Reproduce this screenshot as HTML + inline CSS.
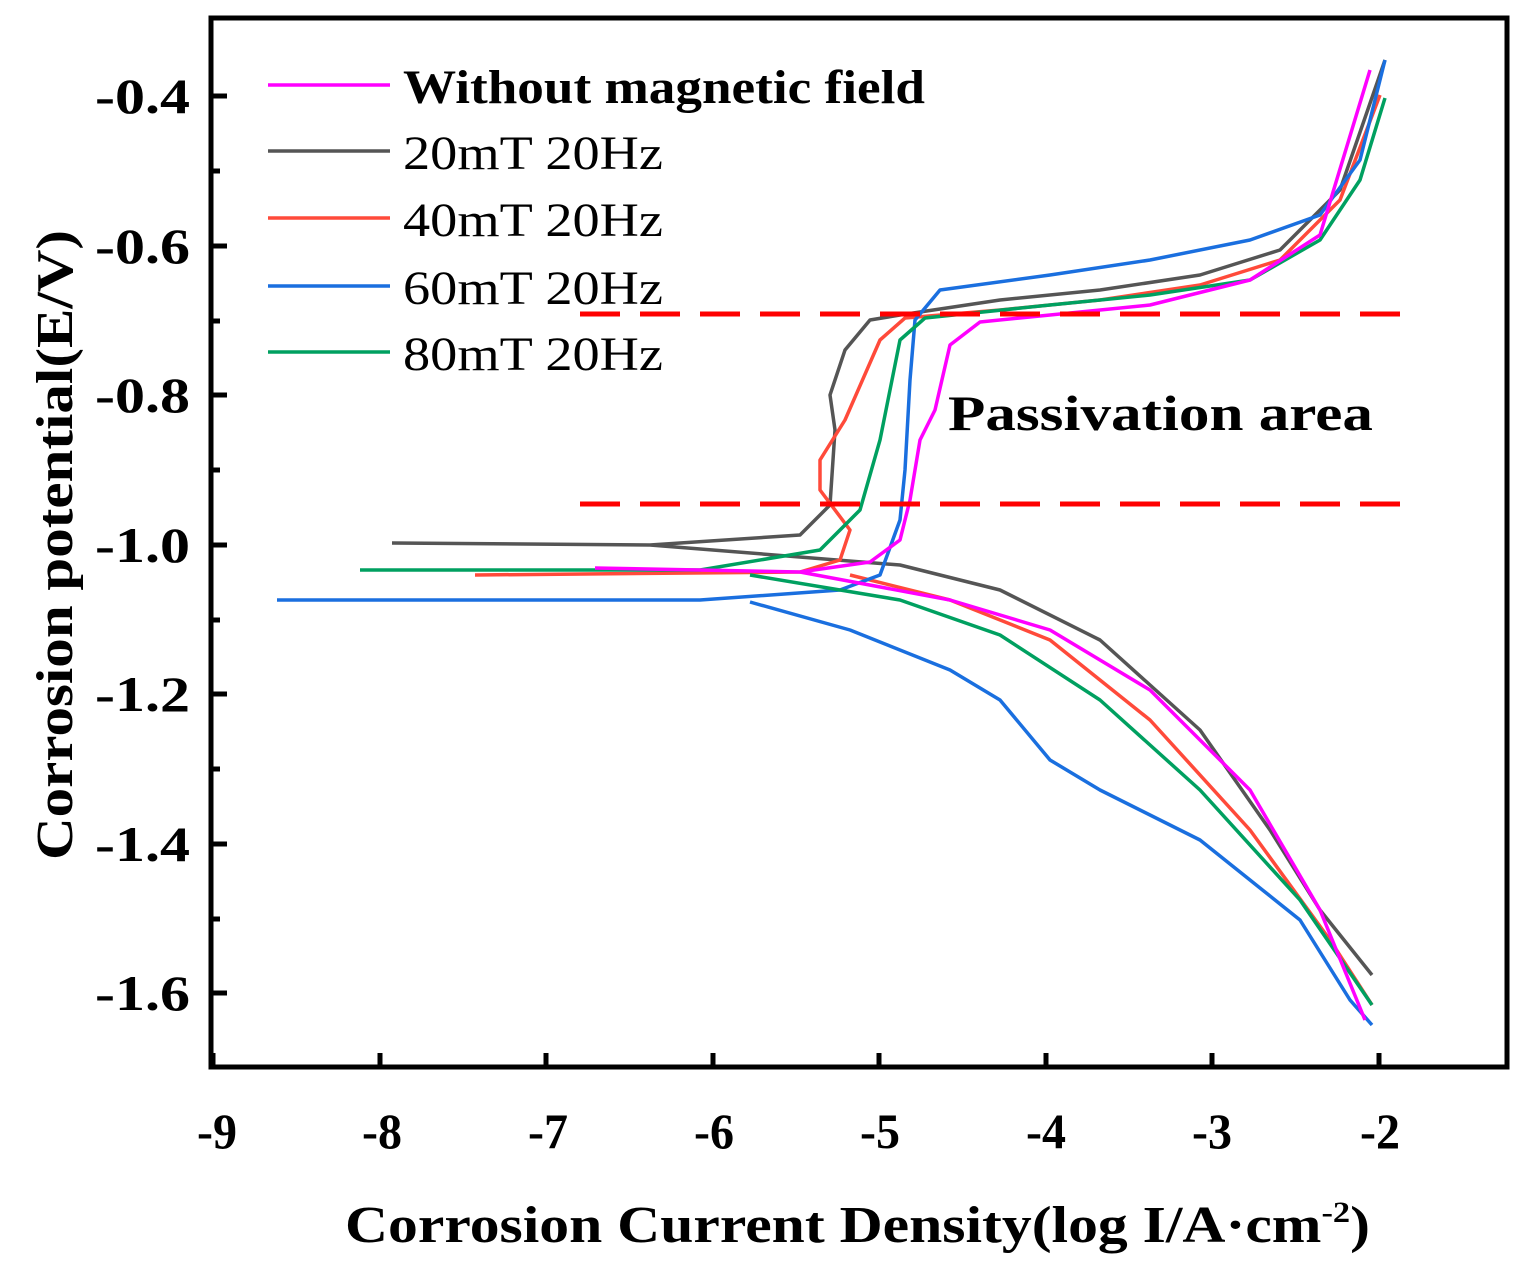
<!DOCTYPE html>
<html><head><style>body{margin:0;background:#fff}</style></head><body>
<svg width="1531" height="1273" viewBox="0 0 1531 1273" xmlns="http://www.w3.org/2000/svg" font-family="Liberation Serif, serif">
<rect width="1531" height="1273" fill="#fff"/>
<g fill="none" stroke-width="3.5" stroke-linejoin="round">
<path stroke="#555" d="M392,543 L650,545 L800,535 L830,505 L835,430 L830,395 L845,350 L870,320 L900,315 L1000,300 L1100,290 L1200,275 L1280,250 L1340,190 L1385,60 M650,545 L900,565 L1000,590 L1100,640 L1200,730 L1270,830 L1320,910 L1360,960 L1372,975"/>
<path stroke="#ff4a3a" d="M475,575 L800,572 L840,560 L850,530 L820,490 L820,460 L845,420 L880,340 L905,318 L1000,310 L1100,300 L1200,285 L1280,260 L1340,200 L1380,95 M850,575 L950,600 L1050,640 L1150,720 L1250,830 L1330,940 L1372,1005"/>
<path stroke="#1a6fdf" d="M277,600 L700,600 L840,590 L880,575 L900,520 L905,470 L910,380 L915,320 L940,290 L1050,275 L1150,260 L1250,240 L1320,215 L1360,160 L1385,60 M750,602 L850,630 L950,670 L1000,700 L1050,760 L1100,790 L1200,840 L1300,920 L1350,1000 L1372,1025"/>
<path stroke="#00a060" d="M360,570 L700,570 L820,550 L860,510 L880,440 L900,340 L925,318 L1050,305 L1150,295 L1250,280 L1320,240 L1360,180 L1385,98 M750,575 L900,600 L1000,635 L1100,700 L1200,790 L1300,900 L1372,1005"/>
<path stroke="#ff00ff" d="M595,568 L800,572 L870,562 L900,540 L910,500 L920,440 L935,410 L950,345 L980,322 L1050,315 L1150,305 L1250,280 L1320,235 L1370,70 M800,572 L950,600 L1050,630 L1150,690 L1250,790 L1320,910 L1365,1020"/>
</g>
<g stroke="#f00" stroke-width="5" stroke-dasharray="40,20">
<line x1="580" y1="314" x2="1420" y2="314"/><line x1="580" y1="504" x2="1420" y2="504"/>
</g>
<rect x="211" y="18" width="1296" height="1049" fill="none" stroke="#000" stroke-width="5"/>
<g stroke="#000" stroke-width="5">
<path d="M213,1067v-14M380,1067v-14M546,1067v-14M713,1067v-14M879,1067v-14M1046,1067v-14M1212,1067v-14M1379,1067v-14"/>
<path d="M211,96h16M211,246h16M211,395h16M211,545h16M211,694h16M211,844h16M211,993h16"/>
<path d="M211,171h9M211,321h9M211,470h9M211,620h9M211,769h9M211,919h9"/>
</g>
<g font-size="50" font-weight="bold">
<text x="197" y="1148" textLength="40" lengthAdjust="spacingAndGlyphs">-9</text>
<text x="362" y="1148" textLength="40" lengthAdjust="spacingAndGlyphs">-8</text>
<text x="528" y="1148" textLength="40" lengthAdjust="spacingAndGlyphs">-7</text>
<text x="694" y="1148" textLength="40" lengthAdjust="spacingAndGlyphs">-6</text>
<text x="860" y="1148" textLength="40" lengthAdjust="spacingAndGlyphs">-5</text>
<text x="1026" y="1148" textLength="40" lengthAdjust="spacingAndGlyphs">-4</text>
<text x="1192" y="1148" textLength="40" lengthAdjust="spacingAndGlyphs">-3</text>
<text x="1360" y="1148" textLength="40" lengthAdjust="spacingAndGlyphs">-2</text>
</g>
<g font-size="50" font-weight="bold">
<text x="95" y="113" textLength="95" lengthAdjust="spacingAndGlyphs">-0.4</text>
<text x="95" y="263" textLength="95" lengthAdjust="spacingAndGlyphs">-0.6</text>
<text x="95" y="412" textLength="95" lengthAdjust="spacingAndGlyphs">-0.8</text>
<text x="95" y="562" textLength="95" lengthAdjust="spacingAndGlyphs">-1.0</text>
<text x="95" y="711" textLength="95" lengthAdjust="spacingAndGlyphs">-1.2</text>
<text x="95" y="861" textLength="95" lengthAdjust="spacingAndGlyphs">-1.4</text>
<text x="95" y="1010" textLength="95" lengthAdjust="spacingAndGlyphs">-1.6</text>
</g>
<text transform="translate(72,860) rotate(-90)" font-size="52" font-weight="bold" textLength="630" lengthAdjust="spacingAndGlyphs">Corrosion potential(E/V)</text>
<text x="345" y="1242" font-size="52" font-weight="bold" textLength="1025" lengthAdjust="spacingAndGlyphs">Corrosion Current Density(log I/A·cm<tspan font-size="30" dy="-20">-2</tspan><tspan dy="20">)</tspan></text>
<g stroke-width="3.5">
<line x1="268" y1="85" x2="390" y2="85" stroke="#ff00ff"/>
<line x1="268" y1="151" x2="390" y2="151" stroke="#555"/>
<line x1="268" y1="218" x2="390" y2="218" stroke="#ff4a3a"/>
<line x1="268" y1="286" x2="390" y2="286" stroke="#1a6fdf"/>
<line x1="268" y1="352" x2="390" y2="352" stroke="#00a060"/>
</g>
<g font-size="48">
<text x="403" y="103" font-weight="bold" textLength="522" lengthAdjust="spacingAndGlyphs">Without  magnetic field</text>
<text x="403" y="169" textLength="260" lengthAdjust="spacingAndGlyphs">20mT 20Hz</text>
<text x="403" y="236" textLength="260" lengthAdjust="spacingAndGlyphs">40mT 20Hz</text>
<text x="403" y="304" textLength="260" lengthAdjust="spacingAndGlyphs">60mT 20Hz</text>
<text x="403" y="370" textLength="260" lengthAdjust="spacingAndGlyphs">80mT 20Hz</text>
</g>
<text x="948" y="430" font-size="50" font-weight="bold" textLength="425" lengthAdjust="spacingAndGlyphs">Passivation area</text>
</svg>
</body></html>
